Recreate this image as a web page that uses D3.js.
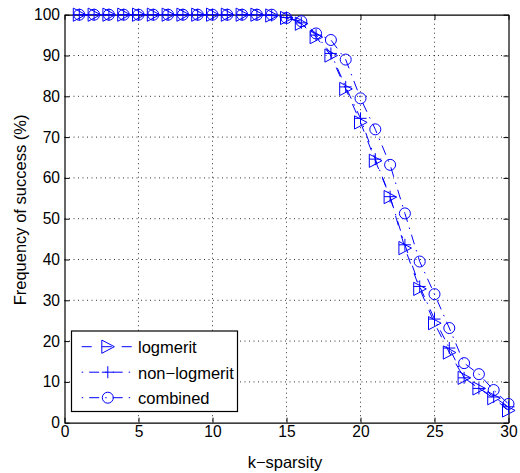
<html>
<head>
<title>k-sparsity</title>
<script src="https://cdnjs.cloudflare.com/ajax/libs/d3/7.8.5/d3.min.js"></script>
<style>
body { margin: 0; background: #fff; }
text { font-family: "Liberation Sans", Arial, sans-serif; }
</style>
</head>
<body>
<svg id="chart" width="520" height="473"></svg>
<script>
var kValues = d3.range(1, 31);
var logmerit = [100, 100, 100, 100, 100, 100, 100, 100, 100, 100, 100, 100, 100, 99.8, 99.2,
    97.8, 94.5, 90, 81.8, 73.6, 64.2, 55.3, 42.8, 32.8, 24.4, 17.2, 11, 8.4, 6, 3];
var nonLogmerit = [100, 100, 100, 100, 100, 100, 100, 100, 100, 100, 100, 100, 100, 99.8, 99.3,
    98, 95, 90.5, 82.3, 74.6, 64.6, 55.4, 43.6, 33.4, 25.4, 18.3, 11, 8.4, 6.3, 3.9];
var combined = [100, 100, 100, 100, 100, 100, 100, 100, 100, 100, 100, 100, 100, 100, 99.2,
    98.4, 95.4, 93.8, 89, 79.5, 71.9, 63.2, 51.3, 39.5, 31.5, 23.2, 14.6, 11.9, 8, 4.6];
var xTicks = [0, 5, 10, 15, 20, 25, 30];
var yTicks = d3.range(0, 101, 10);

var series = [
    { name: 'logmerit', values: logmerit, dash: '10,10', legDash: '10,10', marker: 'tri' },
    { name: 'non\u2212logmerit', values: nonLogmerit, dash: '10,6,1.5,6', legDash: '1.5,6,10,6', marker: 'plus' },
    { name: 'combined', values: combined, dash: '10,6,1.5,6', legDash: '1.5,6,10,6', marker: 'circle' }
];

var pLeft = 64.5, pRight = 508.5, pTop = 14.7, pBottom = 422.7;
var svg = d3.select('#chart');
var x = d3.scaleLinear().domain([0, 30]).range([pLeft, pRight]);
var y = d3.scaleLinear().domain([0, 100]).range([pBottom, pTop]);

// grid
var grid = svg.append('g').attr('stroke', '#000').attr('stroke-width', 0.8)
    .attr('stroke-dasharray', '1,3.5');
grid.selectAll('.gx').data(xTicks.slice(1, -1)).enter().append('line')
    .attr('x1', x).attr('x2', x).attr('y1', pTop).attr('y2', pBottom);
grid.selectAll('.gy').data(yTicks.slice(1, -1)).enter().append('line')
    .attr('y1', y).attr('y2', y).attr('x1', pLeft).attr('x2', pRight);

// axes with inward ticks on all four sides
svg.append('g').attr('transform', 'translate(0,' + pBottom + ')')
    .call(d3.axisBottom(x).tickValues(xTicks).tickSizeInner(-5).tickSizeOuter(0).tickPadding(3.5));
svg.append('g').attr('transform', 'translate(0,' + pTop + ')')
    .call(d3.axisTop(x).tickValues(xTicks).tickSizeInner(-5).tickSizeOuter(0).tickFormat(''));
svg.append('g').attr('transform', 'translate(' + pLeft + ',0)')
    .call(d3.axisLeft(y).tickValues(yTicks).tickSizeInner(-5).tickSizeOuter(0).tickPadding(4.5));
svg.append('g').attr('transform', 'translate(' + pRight + ',0)')
    .call(d3.axisRight(y).tickValues(yTicks).tickSizeInner(-5).tickSizeOuter(0).tickFormat(''));
svg.selectAll('.domain').attr('stroke', '#000').attr('stroke-width', 1.2);
svg.selectAll('.tick line').attr('stroke', '#000');
svg.selectAll('.tick text').attr('font-size', 15.6).attr('fill', '#000')
    .style('font-family', '"Liberation Sans", Arial, sans-serif');

function drawMarker(g, m, cx, cy) {
    if (m === 'tri') {
        g.append('path').attr('d', 'M' + (cx - 6) + ',' + (cy - 6.6) + 'L' + (cx + 6.6) + ',' + cy +
            'L' + (cx - 6) + ',' + (cy + 6.6) + 'Z');
    } else if (m === 'plus') {
        g.append('path').attr('d', 'M' + (cx - 6) + ',' + cy + 'H' + (cx + 6) +
            'M' + cx + ',' + (cy - 6) + 'V' + (cy + 6));
    } else {
        g.append('circle').attr('cx', cx).attr('cy', cy).attr('r', 5.5);
    }
}

var line = d3.line().x(function (d) { return x(d[0]); }).y(function (d) { return y(d[1]); });
series.forEach(function (s) {
    var pts = kValues.map(function (k, i) { return [k, s.values[i]]; });
    var g = svg.append('g').attr('fill', 'none').attr('stroke', '#0000ff').attr('stroke-width', 1);
    g.append('path').datum(pts).attr('d', line).attr('stroke-dasharray', s.dash);
    pts.forEach(function (p) { drawMarker(g, s.marker, x(p[0]), y(p[1])); });
});

// legend
var lg = svg.append('g');
lg.append('rect').attr('x', 71.5).attr('y', 331).attr('width', 166).attr('height', 80.5)
    .attr('fill', '#fff').attr('stroke', '#000').attr('stroke-width', 1.2);
series.forEach(function (s, i) {
    var ly = 346.7 + i * 25.5;
    var g = lg.append('g').attr('fill', 'none').attr('stroke', '#0000ff').attr('stroke-width', 1);
    g.append('line').attr('x1', 81.7).attr('x2', 132).attr('y1', ly).attr('y2', ly)
        .attr('stroke-dasharray', s.legDash);
    drawMarker(g, s.marker, 107.8, ly);
    lg.append('text').attr('x', 138).attr('y', ly + 6.5).attr('font-size', 16.5).text(s.name);
});

// axis labels
svg.append('text').attr('x', 285).attr('y', 468.3).attr('text-anchor', 'middle')
    .attr('font-size', 16.5).text('k\u2212sparsity');
svg.append('text').attr('transform', 'translate(26,210) rotate(-90)')
    .attr('text-anchor', 'middle').attr('font-size', 16.5).text('Frequency of success (%)');
</script>
</body>
</html>
